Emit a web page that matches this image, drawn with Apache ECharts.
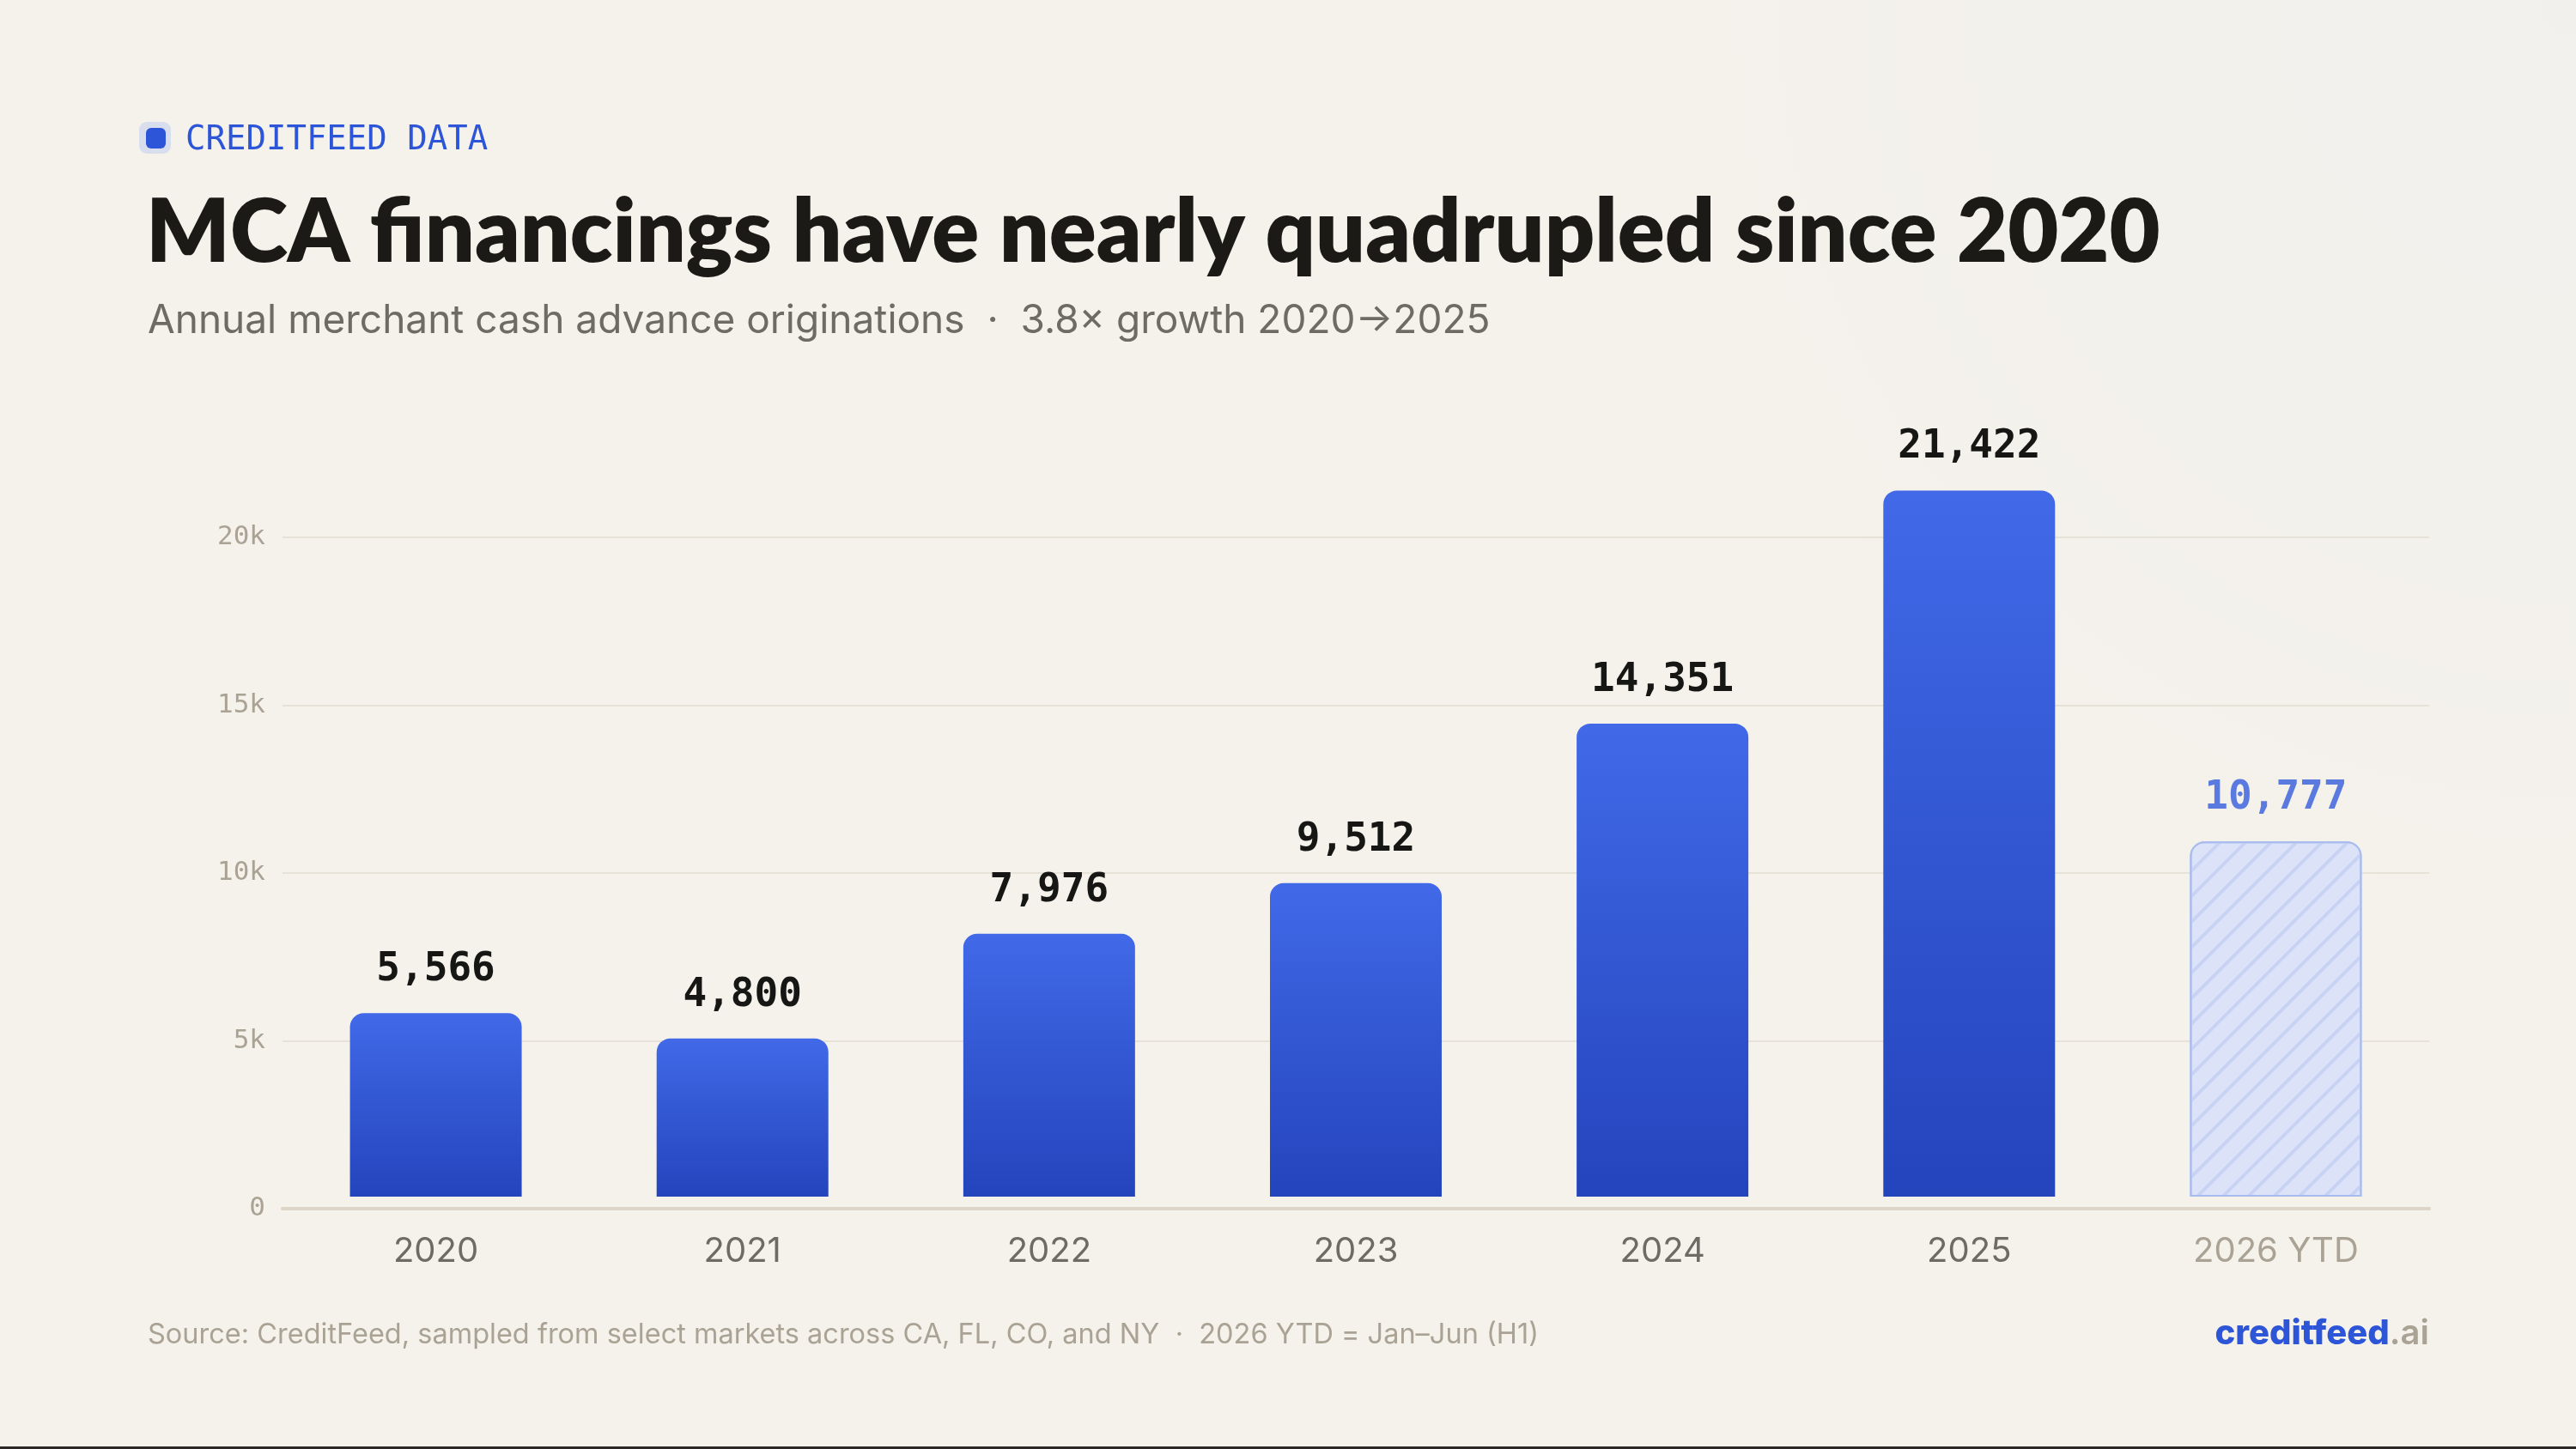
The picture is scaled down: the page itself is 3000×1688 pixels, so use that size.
<!DOCTYPE html>
<html>
<head>
<meta charset="utf-8">
<title>MCA financings have nearly quadrupled since 2020</title>
<script src="https://cdn.jsdelivr.net/npm/echarts@6/dist/echarts.min.js"></script>
<style>
  html, body { margin: 0; padding: 0; background: #f5f2eb; }
  #chart { width: 3000px; height: 1688px; }
</style>
</head>
<body>
<div id="chart"></div>
<script>
const years = ['2020', '2021', '2022', '2023', '2024', '2025', '2026 YTD']
const financings = [5566, 4800, 7976, 9512, 14351, 21422, 10777]
const partialYear = [false, false, false, false, false, false, true]
const yTicks = [0, 5000, 10000, 15000, 20000]
const yTickLabels = ['0', '5k', '10k', '15k', '20k']

const BLUE = '#2d55d8'
const MUTED = '#aaa395'

const chart = echarts.init(document.getElementById('chart'))

const blueBar = new echarts.graphic.LinearGradient(0, 0, 0, 1, [
  { offset: 0, color: '#4169e8' },
  { offset: 1, color: '#2444bc' },
])

const hatchStyle = {
  color: '#dce3f9',
  borderColor: '#a9bcef',
  borderWidth: 2,
  decal: {
    symbol: 'rect',
    symbolSize: 1,
    dashArrayX: [1, 0],
    dashArrayY: [4, 17],
    rotation: -Math.PI / 4,
    color: '#c8d3f4',
  },
}

chart.setOption({
  backgroundColor: new echarts.graphic.RadialGradient(1, 0, 0.7, [
    { offset: 0, color: '#f1f0ed' },
    { offset: 1, color: '#f5f2eb' },
  ]),
  animation: false,
  // grid 0 carries the axes, grid 1 the bars (they sit a little above the axis line)
  grid: [
    { left: 329, right: 171, top: 626, bottom: 280 },
    { left: 329, right: 171, top: 626, bottom: 294 },
  ],
  xAxis: [
    {
      type: 'category',
      gridIndex: 0,
      data: years.map((y, i) => (partialYear[i] ? { value: y, textStyle: { color: MUTED } } : y)),
      axisLine: { lineStyle: { color: '#ddd5c7', width: 4 } },
      axisTick: { show: false },
      axisLabel: { margin: 30, fontFamily: 'Inter', fontSize: 40, color: '#6e6a64' },
    },
    { type: 'category', gridIndex: 1, data: years, show: false },
  ],
  yAxis: [
    {
      type: 'value',
      gridIndex: 0,
      min: 0,
      max: 20000,
      interval: 5000,
      axisLine: { show: false },
      axisTick: { show: false },
      splitLine: { lineStyle: { color: '#e7e2d8', width: 2 } },
      axisLabel: {
        margin: 20,
        fontFamily: 'DejaVu Sans Mono',
        fontSize: 31,
        color: MUTED,
        formatter: (v) => yTickLabels[yTicks.indexOf(v)],
      },
    },
    { type: 'value', gridIndex: 1, min: 0, max: 20000, show: false, splitLine: { show: false } },
  ],
  series: [
    {
      type: 'bar',
      xAxisIndex: 1,
      yAxisIndex: 1,
      barWidth: 200,
      clip: false,
      itemStyle: { color: blueBar, borderRadius: [16, 16, 0, 0] },
      label: {
        show: true,
        position: 'top',
        distance: 27,
        fontFamily: 'DejaVu Sans Mono',
        fontWeight: 'bold',
        fontSize: 46,
        color: '#161614',
        formatter: (p) => echarts.format.addCommas(p.value),
      },
      data: financings.map((v, i) =>
        partialYear[i]
          ? { value: v, itemStyle: hatchStyle, label: { color: '#5a7ae0' } }
          : v
      ),
    },
  ],
  graphic: [
    {
      type: 'rect',
      shape: { x: 162, y: 142, width: 37, height: 37, r: 9 },
      style: { fill: '#d9deef' },
    },
    {
      type: 'rect',
      shape: { x: 170, y: 149, width: 23, height: 24, r: 6 },
      style: { fill: BLUE },
    },
    {
      type: 'text',
      x: 216,
      y: 164,
      style: { text: 'CREDITFEED DATA', font: '39px "DejaVu Sans Mono"', fill: BLUE, verticalAlign: 'middle' },
    },
    {
      type: 'text',
      x: 170,
      y: 272,
      style: {
        text: 'MCA financings have nearly quadrupled since 2020',
        font: '800 102px Lato',
        fill: '#1b1a17',
        verticalAlign: 'middle',
      },
    },
    {
      type: 'text',
      x: 172,
      y: 374,
      style: {
        text: 'Annual merchant cash advance originations  ·  3.8× growth 2020→2025',
        font: '46px Inter',
        fill: '#6e6a64',
        verticalAlign: 'middle',
      },
    },
    {
      type: 'text',
      x: 172,
      y: 1555,
      style: {
        text: 'Source: CreditFeed, sampled from select markets across CA, FL, CO, and NY  ·  2026 YTD = Jan–Jun (H1)',
        font: '32.5px Inter',
        fill: MUTED,
        verticalAlign: 'middle',
      },
    },
    {
      type: 'text',
      x: 2829,
      y: 1554,
      style: {
        text: '{a|creditfeed}{b|.ai}',
        align: 'right',
        verticalAlign: 'middle',
        rich: {
          a: { fontFamily: 'Inter', fontWeight: 800, fontSize: 40, fill: BLUE, color: BLUE },
          b: { fontFamily: 'Inter', fontWeight: 600, fontSize: 40, fill: MUTED, color: MUTED },
        },
      },
    },
    {
      type: 'rect',
      shape: { x: 0, y: 1685, width: 3000, height: 3 },
      style: { fill: '#2b2a27' },
    },
  ],
})
</script>
</body>
</html>
